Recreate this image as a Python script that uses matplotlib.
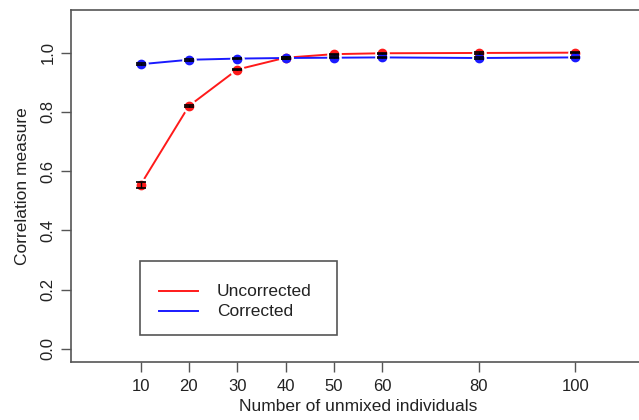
import matplotlib
matplotlib.use("Agg")
import matplotlib.pyplot as plt
from matplotlib.patches import Rectangle
from matplotlib.lines import Line2D

plt.rcParams['font.family'] = ['Liberation Sans', 'DejaVu Sans']

# Number of unmixed individuals
n_individuals = [10, 20, 30, 40, 50, 60, 80, 100]

# Mean correlation measure and half-width of the error bars
uncorrected = [0.554, 0.820, 0.943, 0.983, 0.995, 0.998, 0.999, 1.000]
uncorrected_err = [0.010, 0.005, 0.003, 0.003, 0.002, 0.002, 0.002, 0.002]
corrected = [0.961, 0.976, 0.980, 0.982, 0.983, 0.984, 0.982, 0.984]
corrected_err = [0.003, 0.003, 0.002, 0.002, 0.002, 0.002, 0.002, 0.002]

x_ticks = [10, 20, 30, 40, 50, 60, 80, 100]
y_ticks = [0.0, 0.2, 0.4, 0.6, 0.8, 1.0]

W, H = 639, 420
fig = plt.figure(figsize=(W / 100, H / 100), dpi=100)
ax = fig.add_axes([71 / W, 1 - 362 / H, (645 - 71) / W, (362 - 10) / H])

series = [
    (uncorrected, uncorrected_err, '#ff1a1a'),
    (corrected, corrected_err, '#1a1aff'),
]

for vals, errs, col in series:
    ax.plot(n_individuals, vals, color=col, lw=1.4, zorder=2)
for vals, errs, col in series:
    # white halo leaves a small gap between the line and each point
    ax.plot(n_individuals, vals, ls='none', marker='o', ms=9.5,
            color='white', mec='white', zorder=3)
for vals, errs, col in series:
    ax.plot(n_individuals, vals, ls='none', marker='o', ms=6,
            color=col, mec=col, zorder=4)
    ax.errorbar(n_individuals, vals, yerr=errs, fmt='none', ecolor='black',
                elinewidth=1.0, capsize=3.5, capthick=1.2, zorder=5)

ax.set_xlim(-4.4, 114.4)
ax.set_ylim(-0.044, 1.144)
ax.set_xticks(x_ticks)
ax.set_xticklabels([str(t) for t in x_ticks])
ax.set_yticks(y_ticks)
ax.set_yticklabels(['%.1f' % t for t in y_ticks], rotation=90, va='center')

for s in ax.spines.values():
    s.set_color('#555555')
    s.set_linewidth(1.2)
ax.tick_params(axis='both', direction='out', length=7, width=1.0,
               color='#555555', labelsize=12, labelcolor='#222222')
ax.tick_params(axis='x', pad=5)
ax.tick_params(axis='y', pad=4)

ax.set_xlabel('Number of unmixed individuals', fontsize=12.5, color='#222222', labelpad=4)
ax.set_ylabel('Correlation measure', fontsize=12.5, color='#222222', labelpad=8)

# legend box drawn in axes coordinates
def ax_xy(px, py):
    return (px - 71) / (645 - 71), (362 - py) / (362 - 10)

x0, y0 = ax_xy(140, 335)
x1, y1 = ax_xy(337, 261)
ax.add_patch(Rectangle((x0, y0), x1 - x0, y1 - y0, transform=ax.transAxes,
                       fill=True, facecolor='white', edgecolor='#555555',
                       lw=1.2, zorder=6))
for label, col, py in [('Uncorrected', '#ff1a1a', 291), ('Corrected', '#1a1aff', 311)]:
    lx0, ly = ax_xy(159, py)
    lx1, _ = ax_xy(198, py)
    ax.add_line(Line2D([lx0, lx1], [ly, ly], transform=ax.transAxes,
                       color=col, lw=1.4, zorder=7))
    tx, _ = ax_xy(217, py)
    ax.text(tx, ly, label, transform=ax.transAxes, va='center', ha='left',
            fontsize=12.5, color='#222222', zorder=7)

fig.savefig('out.png', dpi=100)
